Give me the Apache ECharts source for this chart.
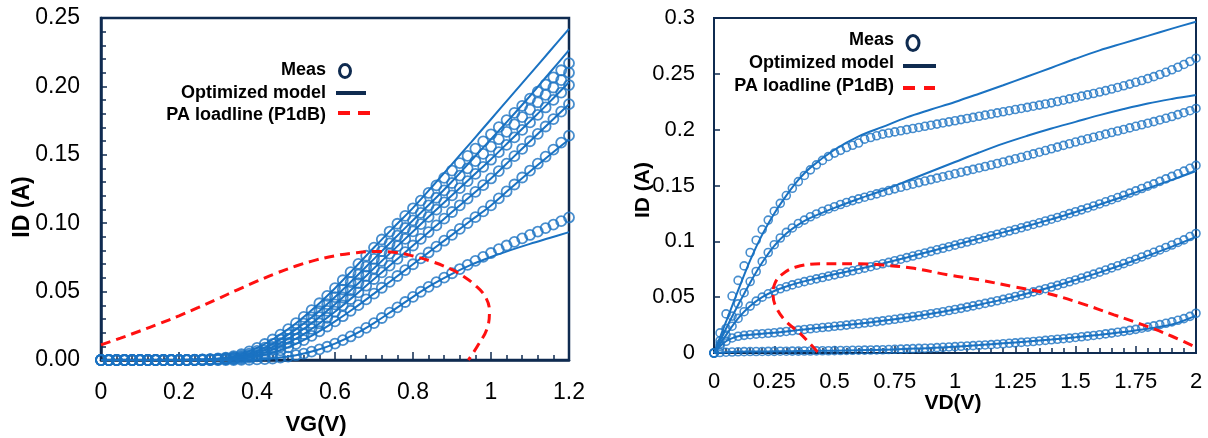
<!DOCTYPE html>
<html>
<head>
<meta charset="utf-8">
<script src="https://cdn.jsdelivr.net/npm/echarts@6/dist/echarts.min.js"></script>
<style>
  html, body { margin: 0; padding: 0; background: #ffffff; }
  #chart { width: 1208px; height: 438px; }
</style>
</head>
<body>
<div id="chart"></div>
<script>
// ---------- Transfer characteristics ID vs VG (left panel) ----------
const VG = [0, 0.02, 0.04, 0.06, 0.08, 0.1, 0.12, 0.14, 0.16, 0.18, 0.2, 0.22, 0.24, 0.26, 0.28, 0.3,
  0.32, 0.34, 0.36, 0.38, 0.4, 0.42, 0.44, 0.46, 0.48, 0.5, 0.52, 0.54, 0.56, 0.58, 0.6, 0.62, 0.64,
  0.66, 0.68, 0.7, 0.72, 0.74, 0.76, 0.78, 0.8, 0.82, 0.84, 0.86, 0.88, 0.9, 0.92, 0.94, 0.96, 0.98,
  1, 1.02, 1.04, 1.06, 1.08, 1.1, 1.12, 1.14, 1.16, 1.18, 1.2];

// measured ID (A), one array per drain bias, highest first
const measVgA = [0, 0, 0, 0, 0, 0, 0, 0, 0, 0, 0.0001, 0.0001, 0.0002, 0.0004, 0.0007, 0.0011, 0.0018,
  0.0028, 0.0043, 0.0063, 0.0088, 0.0117, 0.0150, 0.0186, 0.0226, 0.0269, 0.0315, 0.0364, 0.0415,
  0.0469, 0.0525, 0.0583, 0.0642, 0.0702, 0.0762, 0.0822, 0.0881, 0.0939, 0.0996, 0.1053, 0.1109,
  0.1165, 0.1221, 0.1276, 0.1331, 0.1385, 0.1439, 0.1492, 0.1545, 0.1598, 0.1650, 0.1702, 0.1754,
  0.1806, 0.1858, 0.1910, 0.1962, 0.2014, 0.2066, 0.2118, 0.2170];
const measVgB = [0, 0, 0, 0, 0, 0, 0, 0, 0, 0, 0, 0, 0.0001, 0.0003, 0.0005, 0.0008, 0.0013, 0.0020,
  0.0031, 0.0046, 0.0066, 0.0090, 0.0118, 0.0150, 0.0185, 0.0224, 0.0266, 0.0311, 0.0358, 0.0408,
  0.0460, 0.0514, 0.0569, 0.0625, 0.0682, 0.0739, 0.0796, 0.0853, 0.0909, 0.0965, 0.1021, 0.1076,
  0.1131, 0.1186, 0.1240, 0.1294, 0.1348, 0.1401, 0.1454, 0.1507, 0.1560, 0.1614, 0.1668, 0.1722,
  0.1776, 0.1830, 0.1884, 0.1938, 0.1992, 0.2046, 0.2100];
const measVgC = [0, 0, 0, 0, 0, 0, 0, 0, 0, 0, 0, 0, 0, 0.0002, 0.0004, 0.0006, 0.0010, 0.0015,
  0.0023, 0.0035, 0.0051, 0.0071, 0.0095, 0.0123, 0.0155, 0.0190, 0.0228, 0.0269, 0.0313, 0.0359,
  0.0407, 0.0457, 0.0509, 0.0562, 0.0616, 0.0670, 0.0724, 0.0778, 0.0832, 0.0886, 0.0940, 0.0993,
  0.1046, 0.1099, 0.1152, 0.1204, 0.1256, 0.1308, 0.1360, 0.1412, 0.1464, 0.1519, 0.1573, 0.1628,
  0.1682, 0.1737, 0.1792, 0.1846, 0.1901, 0.1955, 0.2010];
const measVgD = [0, 0, 0, 0, 0, 0, 0, 0, 0, 0, 0, 0, 0, 0, 0.0002, 0.0004, 0.0007, 0.0011, 0.0017,
  0.0026, 0.0038, 0.0054, 0.0074, 0.0098, 0.0125, 0.0156, 0.0190, 0.0227, 0.0267, 0.0309, 0.0353,
  0.0399, 0.0446, 0.0494, 0.0543, 0.0592, 0.0641, 0.0690, 0.0739, 0.0788, 0.0837, 0.0886, 0.0935,
  0.0984, 0.1033, 0.1082, 0.1131, 0.1180, 0.1229, 0.1278, 0.1327, 0.1381, 0.1436, 0.1490, 0.1544,
  0.1599, 0.1653, 0.1707, 0.1761, 0.1816, 0.1870];
const measVgE = [0, 0, 0, 0, 0, 0, 0, 0, 0, 0, 0, 0, 0, 0, 0, 0.0002, 0.0004, 0.0007, 0.0011, 0.0017,
  0.0026, 0.0038, 0.0053, 0.0071, 0.0093, 0.0118, 0.0146, 0.0177, 0.0210, 0.0245, 0.0282, 0.0320,
  0.0360, 0.0401, 0.0443, 0.0485, 0.0528, 0.0571, 0.0614, 0.0657, 0.0700, 0.0743, 0.0786, 0.0829,
  0.0872, 0.0915, 0.0958, 0.1001, 0.1044, 0.1087, 0.1130, 0.1181, 0.1232, 0.1283, 0.1334, 0.1385,
  0.1436, 0.1487, 0.1538, 0.1589, 0.1640];
const measVgF = [0, 0, 0, 0, 0, 0, 0, 0, 0, 0, 0, 0, 0, 0, 0, 0, 0, 0, 0.0001, 0.0002, 0.0004, 0.0007,
  0.0011, 0.0017, 0.0025, 0.0035, 0.0047, 0.0061, 0.0078, 0.0097, 0.0120, 0.0145, 0.0172, 0.0202,
  0.0235, 0.0270, 0.0307, 0.0346, 0.0385, 0.0424, 0.0462, 0.0499, 0.0535, 0.0569, 0.0602, 0.0634,
  0.0665, 0.0695, 0.0725, 0.0754, 0.0782, 0.0810, 0.0837, 0.0863, 0.0889, 0.0914, 0.0939, 0.0964,
  0.0990, 0.1015, 0.1042];

// model curves on a coarser gate sweep
const VG_MODEL = [0, 0.05, 0.1, 0.15, 0.2, 0.25, 0.3, 0.35, 0.4, 0.45, 0.5, 0.55, 0.6, 0.65, 0.7,
  0.75, 0.8, 0.85, 0.9, 0.95, 1, 1.05, 1.1, 1.15, 1.2];
const modelVgA = [0, 0, 0, 0, 0, 0.0003, 0.0011, 0.0035, 0.0088, 0.0168, 0.0269, 0.0389, 0.0525,
  0.0672, 0.0822, 0.0968, 0.1112, 0.1270, 0.1432, 0.1595, 0.1760, 0.1925, 0.2090, 0.2255, 0.2420];
const modelVgB = [0, 0, 0, 0, 0, 0.0002, 0.0008, 0.0025, 0.0066, 0.0134, 0.0224, 0.0334, 0.0460,
  0.0597, 0.0739, 0.0881, 0.1021, 0.1160, 0.1305, 0.1460, 0.1615, 0.1770, 0.1930, 0.2098, 0.2265];
const modelVgC = [0, 0, 0, 0, 0, 0.0001, 0.0006, 0.0019, 0.0051, 0.0109, 0.0190, 0.0291, 0.0407,
  0.0535, 0.0670, 0.0805, 0.0940, 0.1073, 0.1204, 0.1336, 0.1468, 0.1606, 0.1745, 0.1885, 0.2030];
const modelVgD = [0, 0, 0, 0, 0, 0, 0.0004, 0.0014, 0.0038, 0.0086, 0.0156, 0.0247, 0.0353, 0.0470,
  0.0592, 0.0714, 0.0837, 0.0959, 0.1082, 0.1204, 0.1327, 0.1463, 0.1599, 0.1734, 0.1870];
const modelVgE = [0, 0, 0, 0, 0, 0, 0.0002, 0.0009, 0.0026, 0.0062, 0.0118, 0.0193, 0.0282, 0.0380,
  0.0485, 0.0592, 0.0700, 0.0808, 0.0915, 0.1023, 0.1130, 0.1255, 0.1378, 0.1497, 0.1612];
const modelVgF = [0, 0, 0, 0, 0, 0, 0, 0.0001, 0.0004, 0.0014, 0.0035, 0.0069, 0.0120, 0.0187,
  0.0270, 0.0365, 0.0462, 0.0552, 0.0630, 0.0697, 0.0753, 0.0803, 0.0849, 0.0892, 0.0935];

// PA load line at P1dB projected on the VG plane
const loadVgX = [0, 0.05, 0.1, 0.15, 0.2, 0.25, 0.3, 0.35, 0.4, 0.45, 0.5, 0.55, 0.6, 0.65, 0.7,
  0.75, 0.8, 0.85, 0.9, 0.93, 0.96, 0.985, 0.996, 0.99, 0.965, 0.942];
const loadVgY = [0.0110, 0.0160, 0.0212, 0.0266, 0.0323, 0.0384, 0.0448, 0.0513, 0.0576, 0.0635,
  0.0687, 0.0730, 0.0762, 0.0783, 0.0793, 0.0788, 0.0760, 0.0718, 0.0660, 0.0610, 0.0545, 0.0465,
  0.0360, 0.0230, 0.0100, 0];

// ---------- Output characteristics ID vs VD (right panel) ----------
const VD = [0, 0.025, 0.05, 0.075, 0.1, 0.125, 0.15, 0.175, 0.2, 0.225, 0.25, 0.275, 0.3, 0.325,
  0.35, 0.375, 0.4, 0.425, 0.45, 0.475, 0.5, 0.525, 0.55, 0.575, 0.6, 0.625, 0.65, 0.675, 0.7,
  0.725, 0.75, 0.775, 0.8, 0.825, 0.85, 0.875, 0.9, 0.925, 0.95, 0.975, 1, 1.025, 1.05, 1.075,
  1.1, 1.125, 1.15, 1.175, 1.2, 1.225, 1.25, 1.275, 1.3, 1.325, 1.35, 1.375, 1.4, 1.425, 1.45,
  1.475, 1.5, 1.525, 1.55, 1.575, 1.6, 1.625, 1.65, 1.675, 1.7, 1.725, 1.75, 1.775, 1.8, 1.825,
  1.85, 1.875, 1.9, 1.925, 1.95, 1.975, 2];

const measVd1 = [0, 0.018, 0.035, 0.051, 0.065, 0.078, 0.090, 0.101, 0.1105, 0.119, 0.127, 0.134,
  0.141, 0.1475, 0.1535, 0.159, 0.164, 0.1685, 0.1725, 0.176, 0.179, 0.1815, 0.184, 0.186, 0.188,
  0.1915, 0.193, 0.1945, 0.196, 0.197, 0.198, 0.199, 0.200, 0.201, 0.202, 0.203, 0.204, 0.205,
  0.206, 0.207, 0.208, 0.209, 0.210, 0.211, 0.212, 0.213, 0.214, 0.215, 0.216, 0.217, 0.218,
  0.219, 0.220, 0.221, 0.222, 0.223, 0.2240, 0.2252, 0.2264, 0.2276, 0.2288, 0.2300, 0.2312,
  0.2324, 0.2337, 0.2350, 0.2364, 0.2378, 0.2393, 0.2408, 0.2424, 0.2440, 0.2457, 0.2475, 0.2494,
  0.2514, 0.2536, 0.2559, 0.2584, 0.2611, 0.2640];
const measVd2 = [0, 0.011, 0.022, 0.033, 0.044, 0.054, 0.064, 0.073, 0.082, 0.090, 0.097, 0.103,
  0.108, 0.112, 0.116, 0.119, 0.122, 0.1245, 0.127, 0.129, 0.131, 0.133, 0.1348, 0.1365, 0.138,
  0.1395, 0.141, 0.1425, 0.144, 0.1455, 0.147, 0.1484, 0.1498, 0.1512, 0.1526, 0.154, 0.1553,
  0.1566, 0.1579, 0.1592, 0.1605, 0.1618, 0.1631, 0.1644, 0.1657, 0.167, 0.1683, 0.1697, 0.1711,
  0.1725, 0.1739, 0.1753, 0.1768, 0.1783, 0.1798, 0.1813, 0.1829, 0.1844, 0.1859, 0.1874, 0.1889,
  0.1904, 0.1918, 0.1932, 0.1946, 0.1960, 0.1974, 0.1988, 0.2002, 0.2016, 0.2030, 0.2044, 0.2058,
  0.2072, 0.2087, 0.2102, 0.2118, 0.2135, 0.2152, 0.2170, 0.2190];
const measVd3 = [0, 0.008, 0.016, 0.024, 0.031, 0.037, 0.042, 0.0465, 0.050, 0.053, 0.0555, 0.0575,
  0.0593, 0.061, 0.0625, 0.0639, 0.0652, 0.0664, 0.0676, 0.0688, 0.070, 0.0712, 0.0724, 0.0736,
  0.0748, 0.076, 0.0773, 0.0786, 0.0799, 0.0812, 0.0826, 0.084, 0.0854, 0.0868, 0.0882, 0.0896,
  0.091, 0.0924, 0.0938, 0.0952, 0.0966, 0.098, 0.0994, 0.1008, 0.1022, 0.1036, 0.105, 0.1064,
  0.1078, 0.1092, 0.1106, 0.1121, 0.1136, 0.1151, 0.1166, 0.1182, 0.1198, 0.1214, 0.1231, 0.1248,
  0.1265, 0.1282, 0.1299, 0.1317, 0.1335, 0.1354, 0.1373, 0.1392, 0.1412, 0.1432, 0.1452, 0.1473,
  0.1494, 0.1515, 0.1537, 0.1559, 0.1582, 0.1605, 0.1629, 0.1654, 0.1680];
const measVd4 = [0, 0.006, 0.0105, 0.0135, 0.015, 0.0158, 0.0164, 0.0169, 0.0173, 0.0177, 0.0181,
  0.0187, 0.0193, 0.0199, 0.0205, 0.0211, 0.0217, 0.0222, 0.0228, 0.0233, 0.0239, 0.0244, 0.025,
  0.0256, 0.0262, 0.0268, 0.0274, 0.0281, 0.0288, 0.0295, 0.0302, 0.031, 0.0318, 0.0326, 0.0334,
  0.0343, 0.0352, 0.0361, 0.037, 0.038, 0.039, 0.04, 0.0411, 0.0422, 0.0433, 0.0444, 0.0456,
  0.0468, 0.048, 0.0493, 0.0506, 0.0519, 0.0533, 0.0547, 0.0561, 0.0576, 0.0591, 0.0606, 0.0622,
  0.0638, 0.0654, 0.0671, 0.0688, 0.0706, 0.0724, 0.0743, 0.0762, 0.0781, 0.08, 0.082, 0.084,
  0.086, 0.0881, 0.0902, 0.0923, 0.0945, 0.0967, 0.099, 0.1013, 0.1043, 0.1070];
const measVd5 = [0, 0.0004, 0.0007, 0.0009, 0.0011, 0.0012, 0.0013, 0.0013, 0.0014, 0.0015, 0.0015,
  0.0016, 0.0016, 0.0017, 0.0017, 0.0018, 0.0018, 0.0019, 0.002, 0.002, 0.0021, 0.0022, 0.0023,
  0.0024, 0.0025, 0.0026, 0.0027, 0.0028, 0.0029, 0.0031, 0.0033, 0.0035, 0.0037, 0.0039, 0.0041,
  0.0043, 0.0045, 0.0048, 0.0051, 0.0054, 0.0057, 0.006, 0.0063, 0.0066, 0.0069, 0.0072, 0.0075,
  0.0079, 0.0083, 0.0087, 0.0091, 0.0095, 0.0099, 0.0103, 0.0108, 0.0113, 0.0118, 0.0123, 0.0128,
  0.0133, 0.0139, 0.0145, 0.0151, 0.0157, 0.0164, 0.0171, 0.0178, 0.0186, 0.0194, 0.0203, 0.0212,
  0.0222, 0.0232, 0.0243, 0.0254, 0.0266, 0.0279, 0.0293, 0.0308, 0.0328, 0.0356];

const VD_MODEL = [0, 0.05, 0.1, 0.15, 0.2, 0.25, 0.3, 0.35, 0.4, 0.5, 0.6, 0.7, 0.8, 0.9, 1, 1.1,
  1.2, 1.3, 1.4, 1.5, 1.6, 1.7, 1.8, 1.9, 2];
const modelVd1 = [0, 0.028, 0.056, 0.083, 0.106, 0.125, 0.141, 0.155, 0.166, 0.182, 0.194, 0.2025,
  0.211, 0.218, 0.2248, 0.2322, 0.2398, 0.2476, 0.2555, 0.2635, 0.2710, 0.2775, 0.2840, 0.2905, 0.2967];
const modelVd2 = [0, 0.022, 0.043, 0.063, 0.081, 0.096, 0.107, 0.115, 0.121, 0.130, 0.138, 0.1455,
  0.1540, 0.1625, 0.1710, 0.1795, 0.1875, 0.1945, 0.2010, 0.2070, 0.2130, 0.2185, 0.2235, 0.2275, 0.2310];
const modelVd3 = [0, 0.016, 0.031, 0.042, 0.050, 0.0555, 0.0595, 0.0628, 0.0655, 0.0705, 0.0752,
  0.0802, 0.0856, 0.0912, 0.0968, 0.1024, 0.1080, 0.1138, 0.1198, 0.1262, 0.1330, 0.1402, 0.1475,
  0.1550, 0.1630];
const modelVd4 = [0, 0.0105, 0.015, 0.0164, 0.0173, 0.0181, 0.0193, 0.0205, 0.0217, 0.0239, 0.0262,
  0.0288, 0.0318, 0.0352, 0.039, 0.0433, 0.048, 0.0533, 0.0591, 0.0654, 0.0722, 0.0795, 0.0872,
  0.0953, 0.1040];
const modelVd5 = [0, 0.0007, 0.0011, 0.0013, 0.0014, 0.0015, 0.0016, 0.0017, 0.0018, 0.0021, 0.0025,
  0.0029, 0.0037, 0.0045, 0.0057, 0.0071, 0.0087, 0.0103, 0.0121, 0.0141, 0.0163, 0.0188, 0.0218,
  0.0255, 0.0335];

// PA load line at P1dB on the VD plane
const loadVdX = [0.43, 0.40, 0.355, 0.30, 0.26, 0.245, 0.252, 0.28, 0.34, 0.45, 0.6, 0.7, 0.83,
  0.97, 1.1, 1.24, 1.38, 1.52, 1.66, 1.8, 1.9, 2.0];
const loadVdY = [0.001, 0.008, 0.018, 0.028, 0.040, 0.052, 0.062, 0.070, 0.077, 0.0800, 0.0800,
  0.0788, 0.0758, 0.0700, 0.0655, 0.0595, 0.0535, 0.0447, 0.0342, 0.0236, 0.0150, 0.0050];

// axis tick values
const vgTicks = [0, 0.2, 0.4, 0.6, 0.8, 1, 1.2];
const idLeftTicks = ['0.00', '0.05', '0.10', '0.15', '0.20', '0.25'];
const vdTicks = [0, 0.25, 0.5, 0.75, 1, 1.25, 1.5, 1.75, 2];
const idRightTicks = ['0', '0.05', '0.1', '0.15', '0.2', '0.25', '0.3'];

// ---------- styling ----------
const BLUE = '#1a72c2';
const NAVY = '#0f2b50';
const RED = '#ff1010';
const FONT = "'Liberation Sans', Arial, sans-serif";

const pairs = (xs, ys) => xs.map((x, i) => [x, ys[i]]);

function measSeries(idx, xs, ys, size, bw) {
  return {
    type: 'scatter', xAxisIndex: idx, yAxisIndex: idx, clip: false,
    symbol: 'circle', symbolSize: size, silent: true,
    itemStyle: { color: 'rgba(255,255,255,0)', borderColor: BLUE, borderWidth: bw },
    data: pairs(xs, ys), z: 3
  };
}
function modelSeries(idx, xs, ys) {
  return {
    type: 'line', xAxisIndex: idx, yAxisIndex: idx, clip: false, smooth: 0.35,
    showSymbol: false, silent: true,
    lineStyle: { color: BLUE, width: 2 },
    data: pairs(xs, ys), z: 4
  };
}
function loadSeries(idx, xs, ys) {
  return {
    type: 'line', xAxisIndex: idx, yAxisIndex: idx, clip: false, smooth: 0.4,
    showSymbol: false, silent: true,
    lineStyle: { color: RED, width: 3, type: [10, 6] },
    data: pairs(xs, ys), z: 5
  };
}

function makeXAxis(idx, ticks, majorLen, minorLen, margin, fontSize) {
  return {
    gridIndex: idx, type: 'value', min: ticks[0], max: ticks[ticks.length - 1],
    interval: ticks[1] - ticks[0],
    axisLine: { show: true, onZero: false, lineStyle: { color: NAVY, width: idx === 0 ? 2.5 : 2 } },
    axisTick: { show: true, inside: true, length: majorLen, lineStyle: { color: NAVY, width: 1.5 } },
    minorTick: { show: true, splitNumber: 5, length: minorLen, lineStyle: { color: NAVY, width: 1.5 } },
    axisLabel: { fontFamily: FONT, fontSize: fontSize, color: '#000', margin: margin,
      formatter: v => String(+v.toFixed(2)) },
    splitLine: { show: false }, minorSplitLine: { show: false }
  };
}

const option = {
  animation: false,
  backgroundColor: '#ffffff',
  grid: [
    { left: 101, top: 18, width: 468, height: 342, show: true, borderColor: NAVY, borderWidth: 2.5,
      backgroundColor: 'rgba(0,0,0,0)' },
    { left: 714, top: 18, width: 482, height: 335, show: true, borderColor: NAVY, borderWidth: 2,
      backgroundColor: 'rgba(0,0,0,0)' }
  ],
  xAxis: [
    makeXAxis(0, vgTicks, 8, 5, 21, 23),
    makeXAxis(1, vdTicks, 7, 5, 18, 22)
  ],
  yAxis: [
    {
      gridIndex: 0, type: 'value', min: 0, max: 0.25, interval: 0.05,
      axisLine: { show: true, lineStyle: { color: NAVY, width: 2.5 } },
      axisTick: { show: true, inside: true, length: 6, lineStyle: { color: NAVY, width: 1.5 } },
      minorTick: { show: true, splitNumber: 5, length: 5, lineStyle: { color: NAVY, width: 1.5 } },
      axisLabel: { fontFamily: FONT, fontSize: 23, color: '#000', margin: 21,
        formatter: (v) => idLeftTicks[Math.round(v / 0.05)] },
      splitLine: { show: false }, minorSplitLine: { show: false }
    },
    {
      gridIndex: 1, type: 'value', min: 0, max: 0.3, interval: 0.05,
      axisLine: { show: true, lineStyle: { color: NAVY, width: 2 } },
      axisTick: { show: true, inside: true, length: 6, lineStyle: { color: NAVY, width: 1.5 } },
      axisLabel: { fontFamily: FONT, fontSize: 22, color: '#000', margin: 19,
        formatter: (v) => idRightTicks[Math.round(v / 0.05)] },
      splitLine: { show: false }
    }
  ],
  series: [
    measSeries(0, VG, measVgA, 10, 1.8),
    measSeries(0, VG, measVgB, 10, 1.8),
    measSeries(0, VG, measVgC, 10, 1.8),
    measSeries(0, VG, measVgD, 10, 1.8),
    measSeries(0, VG, measVgE, 10, 1.8),
    measSeries(0, VG, measVgF, 10, 1.8),
    modelSeries(0, VG_MODEL, modelVgA),
    modelSeries(0, VG_MODEL, modelVgB),
    modelSeries(0, VG_MODEL, modelVgC),
    modelSeries(0, VG_MODEL, modelVgD),
    modelSeries(0, VG_MODEL, modelVgE),
    modelSeries(0, VG_MODEL, modelVgF),
    loadSeries(0, loadVgX, loadVgY),

    measSeries(1, VD, measVd1, 8, 1.6),
    measSeries(1, VD, measVd2, 8, 1.6),
    measSeries(1, VD, measVd3, 8, 1.6),
    measSeries(1, VD, measVd4, 8, 1.6),
    measSeries(1, VD, measVd5, 8, 1.6),
    modelSeries(1, VD_MODEL, modelVd1),
    modelSeries(1, VD_MODEL, modelVd2),
    modelSeries(1, VD_MODEL, modelVd3),
    modelSeries(1, VD_MODEL, modelVd4),
    modelSeries(1, VD_MODEL, modelVd5),
    loadSeries(1, loadVdX, loadVdY)
  ],
  graphic: [
    // axis titles
    { type: 'text', x: 23, y: 207, rotation: Math.PI / 2,
      style: { text: 'ID (A)', font: 'bold 23px ' + FONT, fill: '#000', align: 'center', verticalAlign: 'middle' } },
    { type: 'text', x: 316, y: 425,
      style: { text: 'VG(V)', font: 'bold 22px ' + FONT, fill: '#000', align: 'center', verticalAlign: 'middle' } },
    { type: 'text', x: 643, y: 190, rotation: Math.PI / 2,
      style: { text: 'ID (A)', font: 'bold 21px ' + FONT, fill: '#000', align: 'center', verticalAlign: 'middle' } },
    { type: 'text', x: 953, y: 403,
      style: { text: 'VD(V)', font: 'bold 21px ' + FONT, fill: '#000', align: 'center', verticalAlign: 'middle' } },

    // legend, left panel
    { type: 'text', x: 326, y: 70, style: { text: 'Meas', font: 'bold 18px ' + FONT, fill: '#000', align: 'right', verticalAlign: 'middle' } },
    { type: 'text', x: 326, y: 93, style: { text: 'Optimized model', font: 'bold 18px ' + FONT, fill: '#000', align: 'right', verticalAlign: 'middle' } },
    { type: 'text', x: 326, y: 115, style: { text: 'PA loadline (P1dB)', font: 'bold 18px ' + FONT, fill: '#000', align: 'right', verticalAlign: 'middle' } },
    { type: 'ellipse', shape: { cx: 345, cy: 71, rx: 5.5, ry: 6.5 }, style: { fill: 'none', stroke: NAVY, lineWidth: 3 } },
    { type: 'line', shape: { x1: 336, y1: 93, x2: 366, y2: 93 }, style: { stroke: NAVY, lineWidth: 4 } },
    { type: 'line', shape: { x1: 338, y1: 113, x2: 370, y2: 113 }, style: { stroke: RED, lineWidth: 4, lineDash: [12, 8] } },

    // legend, right panel
    { type: 'text', x: 894, y: 40, style: { text: 'Meas', font: 'bold 18px ' + FONT, fill: '#000', align: 'right', verticalAlign: 'middle' } },
    { type: 'text', x: 894, y: 63, style: { text: 'Optimized model', font: 'bold 18px ' + FONT, fill: '#000', align: 'right', verticalAlign: 'middle' } },
    { type: 'text', x: 894, y: 86, style: { text: 'PA loadline (P1dB)', font: 'bold 18px ' + FONT, fill: '#000', align: 'right', verticalAlign: 'middle' } },
    { type: 'ellipse', shape: { cx: 913, cy: 43, rx: 6, ry: 7.5 }, style: { fill: 'none', stroke: NAVY, lineWidth: 3 } },
    { type: 'line', shape: { x1: 903, y1: 66, x2: 936, y2: 66 }, style: { stroke: NAVY, lineWidth: 4 } },
    { type: 'line', shape: { x1: 903, y1: 88, x2: 935, y2: 88 }, style: { stroke: RED, lineWidth: 4, lineDash: [12, 9] } }
  ]
};

const chart = echarts.init(document.getElementById('chart'), null, { renderer: 'canvas' });
chart.setOption(option);
</script>
</body>
</html>
